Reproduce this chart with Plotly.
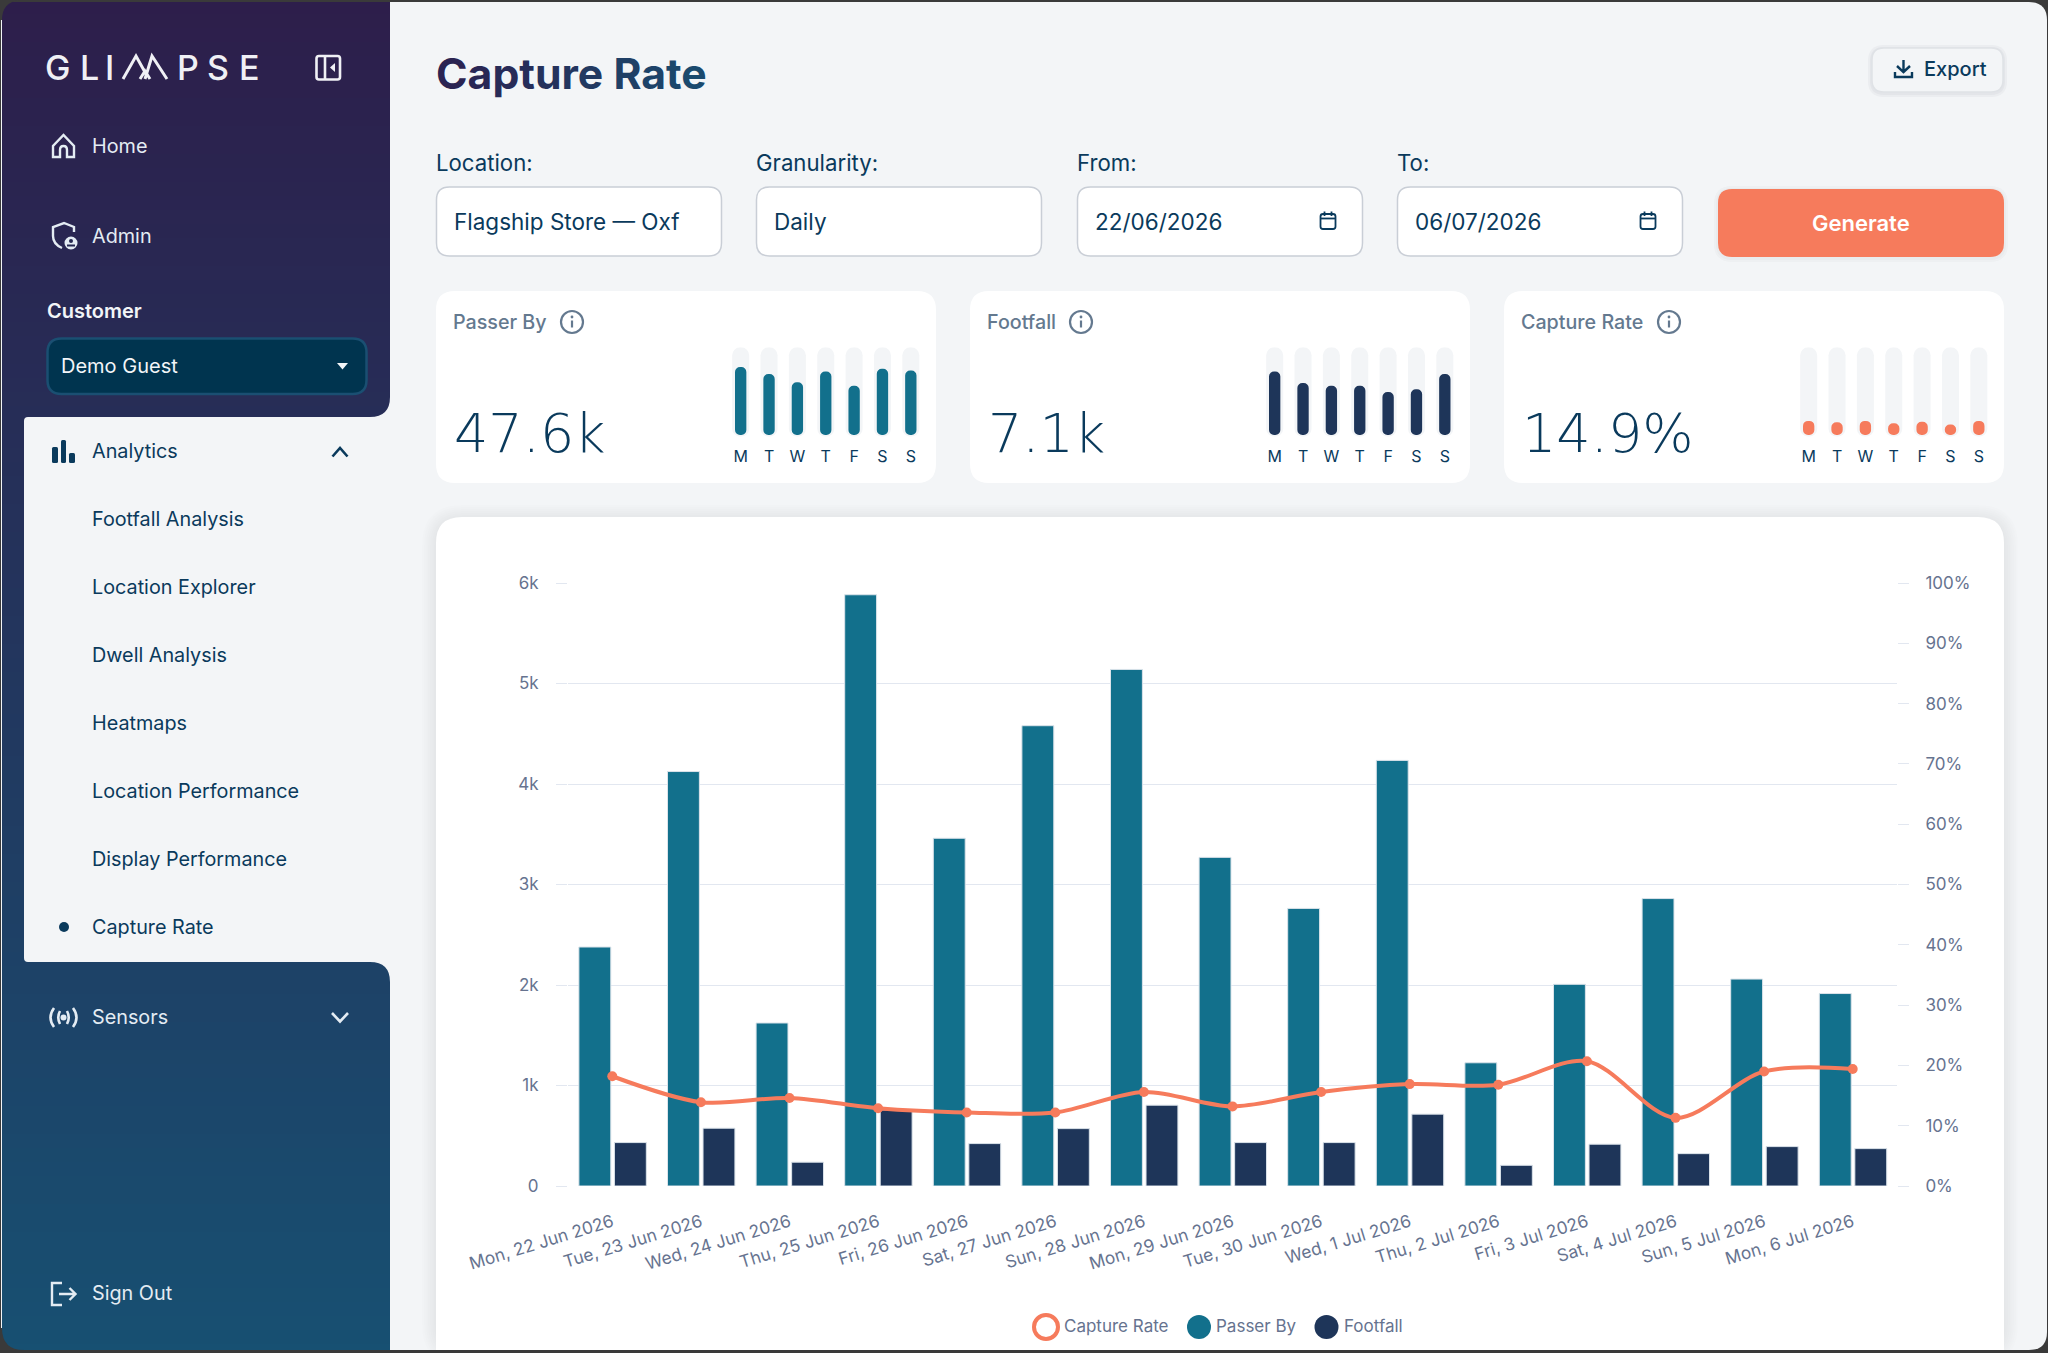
"""Capture Rate dashboard page rebuilt as a single plotly figure."""

import re

import plotly.graph_objects as go

W, H = 2048, 1353
FONT = "Inter"
NUMBER_FONT = "DejaVu Sans ExtraLight, DejaVu Sans Light, Open Sans"

NAVY = "#0a3a5c"
TEAL = "#12708c"
DARK = "#1e3559"
CORAL = "#f67b5c"
PAGE = "#f3f5f7"
TICK = "#66738f"
GRID = "#e2e7f0"
MUTED = "#64798f"

days = [
    "Mon, 22 Jun 2026", "Tue, 23 Jun 2026", "Wed, 24 Jun 2026", "Thu, 25 Jun 2026",
    "Fri, 26 Jun 2026", "Sat, 27 Jun 2026", "Sun, 28 Jun 2026", "Mon, 29 Jun 2026",
    "Tue, 30 Jun 2026", "Wed, 1 Jul 2026", "Thu, 2 Jul 2026", "Fri, 3 Jul 2026",
    "Sat, 4 Jul 2026", "Sun, 5 Jul 2026", "Mon, 6 Jul 2026",
]
passer_by = [2378, 4124, 1622, 5883, 3460, 4580, 5140, 3270, 2762, 4235, 1226, 2007, 2860, 2059, 1915]
footfall = [432, 575, 237, 757, 422, 571, 804, 432, 432, 715, 206, 416, 322, 392, 372]
capture_rate = [18.2, 13.9, 14.6, 12.9, 12.2, 12.2, 15.6, 13.2, 15.6, 16.9, 16.8, 20.7, 11.3, 19.0, 19.4]

left_ticks = [0, 1000, 2000, 3000, 4000, 5000, 6000]
left_labels = ["0", "1k", "2k", "3k", "4k", "5k", "6k"]
right_ticks = [0, 10, 20, 30, 40, 50, 60, 70, 80, 90, 100]
right_labels = ["0%", "10%", "20%", "30%", "40%", "50%", "60%", "70%", "80%", "90%", "100%"]

week_labels = ["M", "T", "W", "T", "F", "S", "S"]
week_slots = [0, 1, 2, 3, 4, 5, 6]
week_track = [100, 100, 100, 100, 100, 100, 100]
week_passer = [76, 68, 59, 71, 55, 74, 72]
week_footfall = [71, 58, 55, 55, 48, 51, 68]
week_capture = [15.7, 14.2, 15.7, 13.1, 14.6, 11.6, 15.7]

nav_light = [("Home", 146), ("Admin", 236), ("Sensors", 1017), ("Sign Out", 1293)]
nav_dark = [
    ("Analytics", 451), ("Footfall Analysis", 519), ("Location Explorer", 587),
    ("Dwell Analysis", 655), ("Heatmaps", 723), ("Location Performance", 791),
    ("Display Performance", 859), ("Capture Rate", 927),
]
logo_letters = [("G", 57.5), ("L", 89), ("I", 109.5), ("P", 188), ("S", 218), ("E", 249)]
filters = [
    ("Location:", "Flagship Store — Oxf", 436),
    ("Granularity:", "Daily", 756),
    ("From:", "22/06/2026", 1077),
    ("To:", "06/07/2026", 1397),
]


def px(x):
    return x / W


def py(y):
    return 1 - y / H


def to_paper(d):
    # pixel svg path (absolute M L Q C Z only) to paper coordinates
    out = []
    for cmd, args in re.findall(r"([MLQCZ])([^MLQCZ]*)", d):
        nums = [float(n) for n in re.findall(r"-?\d+\.?\d*", args)]
        pts = [f"{px(nums[i]):.5f},{py(nums[i + 1]):.5f}" for i in range(0, len(nums), 2)]
        out.append(cmd + " ".join(pts))
    return " ".join(out)


def rr_path(x0, y0, x1, y1, r):
    return (
        f"M{x0 + r} {y0} L{x1 - r} {y0} Q{x1} {y0} {x1} {y0 + r} L{x1} {y1 - r} "
        f"Q{x1} {y1} {x1 - r} {y1} L{x0 + r} {y1} Q{x0} {y1} {x0} {y1 - r} "
        f"L{x0} {y0 + r} Q{x0} {y0} {x0 + r} {y0} Z"
    )


shapes = []
annotations = []


def path(d, fill=None, line=None, width=0):
    shapes.append(dict(
        type="path", path=to_paper(d), xref="paper", yref="paper", layer="below",
        fillcolor=fill or "rgba(0,0,0,0)",
        line=dict(color=line or "rgba(0,0,0,0)", width=width),
    ))


def box(x0, y0, x1, y1, r, fill=None, line=None, width=0):
    path(rr_path(x0, y0, x1, y1, r), fill, line, width)


def circle(cx, cy, r, fill=None, line=None, width=0):
    shapes.append(dict(
        type="circle", xref="paper", yref="paper", layer="below",
        x0=px(cx - r), x1=px(cx + r), y0=py(cy + r), y1=py(cy - r),
        fillcolor=fill or "rgba(0,0,0,0)",
        line=dict(color=line or "rgba(0,0,0,0)", width=width),
    ))


def shadow(x0, y0, x1, y1, r, spread, alpha, dy=0):
    for i in range(spread, 0, -2):
        box(x0 - i, y0 - i + dy, x1 + i, y1 + i + dy, r + i, fill=f"rgba(30,40,60,{alpha})")


def text(x, y, s, size, color, weight=400, anchor="left", family=FONT):
    annotations.append(dict(
        x=px(x - 1 if anchor == "left" else x), y=py(y), xref="paper", yref="paper",
        text=s, showarrow=False, xanchor=anchor, yanchor="middle", borderpad=0,
        font=dict(family=family, size=size, color=color, weight=weight),
    ))


def blend(c0, c1, t):
    return tuple(round(a + (b - a) * t) for a, b in zip(c0, c1))


def info(cx, cy):
    circle(cx, cy, 11, line=MUTED, width=2.2)
    circle(cx, cy - 5, 1.4, fill=MUTED)
    path(f"M{cx} {cy - 1.5} L{cx} {cy + 5.5}", line=MUTED, width=2.2)


def calendar(cx, cy):
    box(cx - 7.5, cy - 7, cx + 7.5, cy + 8, 2.5, line=NAVY, width=1.8)
    path(f"M{cx - 7.5} {cy - 2.5} L{cx + 7.5} {cy - 2.5}", line=NAVY, width=1.8)
    path(f"M{cx - 3.5} {cy - 9.5} L{cx - 3.5} {cy - 5} M{cx + 3.5} {cy - 9.5} L{cx + 3.5} {cy - 5}", line=NAVY, width=1.8)


# page and sidebar chrome
box(1, 2, W - 1, 1350, 18, fill=PAGE)
top_col, bottom_col = (0x2d, 0x1e, 0x4b), (0x17, 0x50, 0x72)
for i in range(0, 1350, 14):
    r_, g_, b_ = blend(top_col, bottom_col, i / 1350)
    shapes.append(dict(
        type="rect", xref="paper", yref="paper", layer="below",
        x0=px(2), x1=px(390), y0=py(1350), y1=py(max(i, 2)),
        fillcolor=f"rgb({r_},{g_},{b_})", line=dict(width=0),
    ))
path("M0 0 L20 0 Q2 2 2 20 L0 20 Z", fill="#3a3a3a")
path("M0 1353 L24 1353 L24 1350 Q2 1350 2 1328 L0 1328 Z", fill="#3a3a3a")
path(
    "M28 417 L370 417 Q390 417 390 397 L400 397 L400 982 L390 982 Q390 962 370 962 "
    "L28 962 Q24 962 24 958 L24 421 Q24 417 28 417 Z",
    fill=PAGE,
)

for letter, x in logo_letters:
    text(x, 67, letter, 34, "#f0f0f5", 500, "center")
path("M123 79 L136 56 L146 74 M145 79 L152 56 L167 79 M140 79 L145 71 L150 79", line="#f0f0f5", width=3)
box(316.5, 56, 340, 79.5, 2.5, line="#f0f0f5", width=2.6)
path("M325 56 L325 79.5", line="#f0f0f5", width=2.6)
path("M335 63 L335 72 L330 67.5 Z", fill="#f0f0f5")

light = "#e4ecf3"
path("M53 157 L53 146 L63.5 135 L74 146 L74 157 L67 157 L67 150 Q67 146 63.5 146 Q60 146 60 150 L60 157 Z", line=light, width=2.4)
path("M74 232 L74 227 L64 223 L53 227 L53 236 Q53 244 62 248", line=light, width=2.4)
circle(71, 243, 6.5, fill=light)
circle(71, 241, 2, fill="#24274f")
path("M67 245.5 L75 245.5", line="#24274f", width=2)
path("M54 1008 Q47 1017.5 54 1027 M60 1011 Q56.5 1017.5 60 1024 M73 1008 Q80 1017.5 73 1027 M67 1011 Q70.5 1017.5 67 1024", line=light, width=2.6)
circle(63.5, 1017.5, 3, fill=light)
path("M62 1283 L52 1283 L52 1305 L62 1305", line=light, width=2.4)
path("M59 1294 L75 1294 M69.5 1288 L75.5 1294 L69.5 1300", line=light, width=2.4)
path("M332 1013 L340 1021.5 L348 1013", line=light, width=2.6)

for x0, x1, top in [(52, 58, 447), (61, 66, 440), (69, 75, 453)]:
    box(x0, top, x1, 463, 1.5, fill=NAVY)
path("M332.5 456.5 L340 448 L347.5 456.5", line=NAVY, width=2.6)
circle(64, 927, 5, fill=NAVY)

box(47.5, 338.5, 366.5, 394, 14, fill="#00344f", line="#1a4f72", width=2.5)
path("M337 363 L348 363 L342.5 369.5 Z", fill="#f2f5f8")
text(47, 311, "Customer", 20, "#f2f5f8", 600)
text(61, 366, "Demo Guest", 20, "#f2f5f8")
for label, y in nav_light:
    text(92, y, label, 19.8, light)
for label, y in nav_dark:
    text(92, y, label, 19.8, NAVY)

# header and filter row
title = "Capture Rate"
spans = ""
for i, ch in enumerate(title):
    r_, g_, b_ = blend((0x2b, 0x24, 0x52), (0x1a, 0x4a, 0x6e), i / (len(title) - 1))
    spans += f'<span style="color:rgb({r_},{g_},{b_})">{ch}</span>'
text(436, 73.5, spans, 42.7, DARK, 700)

shadow(1872, 48, 2003, 92, 12, 4, 0.035, dy=1)
box(1872, 48, 2003, 92, 12, fill=PAGE, line="#dfe2e6", width=1.5)
path("M1903.5 60 L1903.5 72 M1897 66 L1903.5 72 L1910 66", line=NAVY, width=2.4)
path("M1895 72 L1895 77 L1912 77 L1912 72", line=NAVY, width=2.4)
text(1924, 69, "Export", 20, NAVY, 500)

for label, value, x in filters:
    text(x, 162.5, label, 22.2, NAVY)
    box(x + 0.5, 187, x + 285.5, 256, 13, fill="#ffffff", line="#c9ced6", width=1.5)
    text(x + 18, 221, value, 22.5, NAVY)
calendar(1328, 221)
calendar(1648, 221)

shadow(1718, 189, 2004, 257, 14, 4, 0.025, dy=1)
box(1718, 189, 2004, 257, 14, fill=CORAL)
text(1861, 223, "Generate", 22, "#ffffff", 600, "center")

# KPI cards
cards = [
    ("Passer By", "47.6k", 436, 453, 572, 454, week_passer, TEAL),
    ("Footfall", "7.1k", 970, 987, 1081, 988, week_footfall, DARK),
    ("Capture Rate", "14.9%", 1504, 1521, 1669, 1522, week_capture, CORAL),
]
for name, big, x0, tx, ix, bx, _, _ in cards:
    box(x0, 291, x0 + 500, 483, 19, fill="#ffffff")
    text(tx, 322, name, 19.7, MUTED, 500)
    info(ix, 322)
    text(bx, 433, big, 54, NAVY, 200, family=NUMBER_FONT)

# main chart card
shadow(436, 517, 2004, 1349, 26, 14, 0.008, dy=2)
box(436, 517, 2004, 1400, 26, fill="#ffffff")
box(1, 1350, 2047, 1353, 0, fill="#3a3a3a")

# manual legend, swatches are round in the reference
circle(1046, 1327, 12, fill="#ffffff", line=CORAL, width=4)
text(1063.5, 1326, "Capture Rate", 17, TICK)
circle(1199, 1327, 12, fill=TEAL)
text(1216, 1326, "Passer By", 17, TICK)
circle(1326.5, 1327, 12, fill=DARK)
text(1344, 1326, "Footfall", 17, TICK)

fig = go.Figure()
edge = dict(color="#dbe3ea", width=1)
fig.add_trace(go.Bar(
    x=days, y=passer_by, name="Passer By", width=0.36, offset=-0.377,
    marker=dict(color=TEAL, line=edge), showlegend=False,
))
fig.add_trace(go.Bar(
    x=days, y=footfall, name="Footfall", width=0.36, offset=0.024,
    marker=dict(color=DARK, line=edge), showlegend=False,
))
fig.add_trace(go.Scatter(
    x=days, y=capture_rate, name="Capture Rate", yaxis="y2", mode="lines+markers",
    line=dict(color=CORAL, width=4, shape="spline", smoothing=0.9),
    marker=dict(color=CORAL, size=10), showlegend=False,
))

layout_axes = dict(
    xaxis=dict(
        domain=[px(568), px(1897)], anchor="y", type="category", categoryorder="trace",
        range=[-0.5, 14.5], automargin=False, showgrid=False, showline=False, zeroline=False,
        ticks="", tickangle=-17, ticklabelstandoff=22,
        tickfont=dict(family=FONT, size=17.3, color=TICK),
    ),
    yaxis=dict(
        domain=[py(1186), py(583)], anchor="x", range=[0, 6000], tickvals=left_ticks,
        ticktext=left_labels, automargin=False, showgrid=True, gridcolor=GRID, gridwidth=1.4,
        zeroline=False, showline=False, ticks="outside", ticklen=11, tickcolor=GRID, tickwidth=1.4,
        ticklabelstandoff=14, tickfont=dict(family=FONT, size=17, color=TICK),
    ),
    yaxis2=dict(
        domain=[py(1186), py(583)], anchor="x", overlaying="y", side="right", range=[0, 100],
        tickvals=right_ticks, ticktext=right_labels, automargin=False, showgrid=False,
        zeroline=False, showline=False, ticks="outside", ticklen=11, tickcolor=GRID, tickwidth=1.4,
        ticklabelstandoff=13, tickfont=dict(family=FONT, size=17, color=TICK),
    ),
)

# weekly pill bars in each card, a set base gets all four corners rounded
for n, (_, _, x0, _, _, _, values, color) in enumerate(cards):
    ax = n + 3
    left = x0 + 290.5
    layout_axes[f"xaxis{ax}"] = dict(
        domain=[px(left), px(left + 198.5)], anchor=f"y{ax}", range=[-0.5, 6.5],
        tickvals=week_slots, ticktext=week_labels, automargin=False, showgrid=False,
        zeroline=False, showline=False, ticks="", ticklabelstandoff=8,
        tickfont=dict(family=FONT, size=16, color=NAVY),
    )
    layout_axes[f"yaxis{ax}"] = dict(
        domain=[py(436.7), py(347.3)], anchor=f"x{ax}", range=[0, 100], visible=False,
        automargin=False,
    )
    fig.add_trace(go.Bar(
        x=week_slots, y=week_track, base=0, width=0.6, xaxis=f"x{ax}", yaxis=f"y{ax}",
        showlegend=False, marker=dict(color=PAGE, line=dict(width=0), cornerradius="50%"),
    ))
    fig.add_trace(go.Bar(
        x=week_slots, y=values, base=2, width=0.4, xaxis=f"x{ax}", yaxis=f"y{ax}",
        showlegend=False, marker=dict(color=color, line=dict(width=0), cornerradius="50%"),
    ))

fig.update_layout(
    width=W, height=H, margin=dict(l=0, r=0, t=0, b=0, pad=0),
    paper_bgcolor="#3a3a3a", plot_bgcolor="rgba(0,0,0,0)",
    barmode="overlay", showlegend=False, shapes=shapes, annotations=annotations,
    font=dict(family=FONT), **layout_axes,
)

fig.write_html(
    "out.html",
    config=dict(displayModeBar=False),
    post_script="document.body.style.margin='0';",
)
